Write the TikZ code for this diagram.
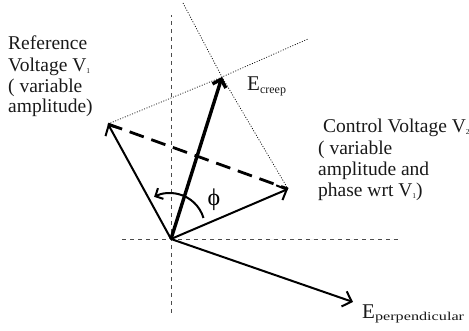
\documentclass[tikz,border=0pt]{standalone}
\usepackage{fontspec}
\usepackage{graphicx}
\setmainfont{Liberation Serif}
\usetikzlibrary{arrows.meta}
\newcommand\lsub[3]{\raisebox{-#3pt}{\fontsize{#2}{#2}\selectfont #1}}
\begin{document}
\begin{tikzpicture}[x=1pt,y=1pt,
  txt/.style={anchor=base west,inner sep=0pt,font=\fontsize{19.5}{21}\selectfont,text=black!90},
  vec/.style={line width=2pt,-{Straight Barb[length=8pt,width=16pt]}},
  bigvec/.style={line width=3.4pt,-{Straight Barb[length=7pt,width=14pt]}},
  axis/.style={line width=0.8pt,black!70,dash pattern=on 4pt off 4pt},
  guide/.style={line width=0.7pt,black,dash pattern=on 1pt off 1.6pt},
  proj/.style={line width=2.8pt,dash pattern=on 15pt off 8pt}
]
\useasboundingbox (0,0) rectangle (469,331);
% key points
\coordinate (O) at (171,92);
\coordinate (A) at (108,207);
\coordinate (B) at (288,142);
\coordinate (C) at (222,254);
\coordinate (D) at (353,29);
\coordinate (vtop) at (171,316);
\coordinate (vbot) at (171,18);
\coordinate (hl) at (122,92);
\coordinate (hr) at (400,92);
\coordinate (g1) at (308,292);
\coordinate (g2) at (183,328);
% axes
\draw[axis] (vbot) -- (vtop);
\draw[axis] (hl) -- (hr);
% guides
\draw[guide] (A) -- (C) -- (g1);
\draw[guide] (g2) -- (C) -- (B);
% projection
\draw[proj] (A) -- (B);
% vectors
\draw[vec] (O) -- (A);
\draw[vec] (O) -- (B);
\draw[vec] (O) -- (D);
\draw[bigvec] (O) -- (C);
% angle arc
\draw[line width=2pt,-{Straight Barb[length=6pt,width=12pt]}] (203.5,113) arc[start angle=16.7,end angle=117,radius=35];
\node[inner sep=0pt,font=\fontsize{24}{24}\selectfont] (phi) at (214,131) {ϕ};
% labels
\node[txt] (r1) at (8,281) {Reference};
\node[txt] (r2) at (8,259) {Voltage V\lsub{1}{7.5}{1.5}};
\node[txt] (r3) at (8,238) {( variable};
\node[txt] (r4) at (8,218) {amplitude)};
\node[txt] (c1) at (323,198) {Control Voltage V\lsub{2}{7.5}{1.5}};
\node[txt] (c2) at (318,176) {( variable};
\node[txt] (c3) at (318,155) {amplitude and};
\node[txt] (c4) at (318,134) {phase wrt V\lsub{1}{7.5}{1.5})};
\node[txt,font=\fontsize{21}{21}\selectfont] (ec) at (247,240) {E\lsub{creep}{12}{2.5}};
\node[txt,font=\fontsize{21}{21}\selectfont] (ep) at (362,12) {E\lsub{\scalebox{1.35}[1]{perpendicular}}{12}{1.5}};
\end{tikzpicture}
\end{document}
